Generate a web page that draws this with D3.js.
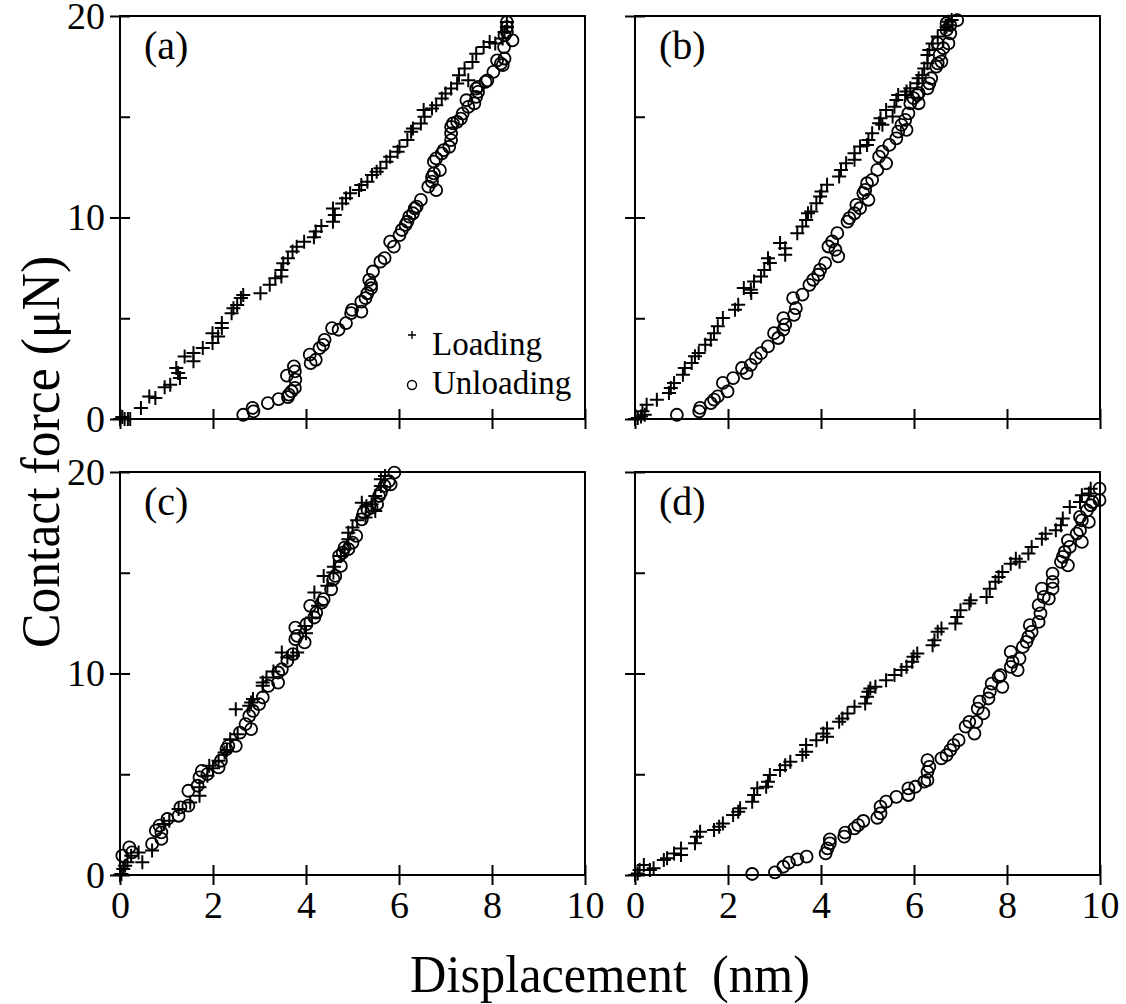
<!DOCTYPE html>
<html>
<head>
<meta charset="utf-8">
<script src="https://cdn.jsdelivr.net/npm/d3@7"></script>
<style>
  body { margin: 0; background: #fff; }
</style>
</head>
<body>
<div id="chart"></div>
<script>
const WIDTH = 1126, HEIGHT = 1004;
const X_TICKS = [0, 2, 4, 6, 8, 10];
const Y_MAJOR = [0, 10, 20];
const Y_ALL = [0, 5, 10, 15, 20];
const PANEL_LABELS = ["(a)", "(b)", "(c)", "(d)"];
const X_TITLE = "Displacement  (nm)";
const Y_TITLE = "Contact force (\u03bcN)";
const LEGEND_NAMES = ["Loading", "Unloading"];
const FONT = "'Liberation Serif'";

// [displacement nm, force uN]
const loadA = [[0,0],[0.05,0.1],[0.1,0],[0.17,0],[0.22,0],[0.45,0.55],[0.63,1.12],[0.76,1.04],[0.96,1.57],[1.08,1.7],
  [1.21,2.53],[1.25,2.28],[1.29,2.03],[1.39,3.1],[1.58,2.86],[1.58,3.27],[1.78,3.52],[1.99,3.77],[1.99,4.26],[2.11,4.1],
  [2.19,4.51],[2.19,4.76],[2.4,5.25],[2.44,5.5],[2.52,5.66],[2.6,6.0],[2.65,6.16],[3.02,6.24],[3.22,6.66],[3.34,6.99],
  [3.47,7.07],[3.47,7.4],[3.51,7.73],[3.61,7.98],[3.71,8.31],[3.8,8.55],[3.96,8.8],[4.17,9.02],[4.21,9.3],[4.33,9.58],
  [4.58,9.79],[4.62,10.12],[4.58,10.45],[4.78,10.7],[4.86,10.95],[4.95,11.2],[5.14,11.36],[5.19,11.61],[5.32,11.78],
  [5.42,12.11],[5.52,12.27],[5.6,12.44],[5.73,12.77],[5.81,13.01],[5.97,13.26],[6.01,13.51],[6.18,13.84],[6.26,14.25],
  [6.3,14.42],[6.47,14.67],[6.55,15.0],[6.53,15.33],[6.71,15.41],[6.8,15.57],[6.92,15.9],[7.0,16.15],[7.12,16.4],
  [7.25,16.65],[7.29,17.06],[7.41,17.39],[7.49,16.81],[7.58,17.72],[7.66,18.13],[7.82,18.46],[7.95,18.71],[8.07,18.63],
  [8.23,18.88],[8.27,19.21],[8.32,19.45],[8.32,19.7]];
const unloadA = [[2.65,0.21],[2.85,0.55],[2.87,0.38],[3.18,0.79],[3.41,0.99],[3.61,1.09],[3.63,1.21],[3.59,2.15],[3.74,2.61],
  [3.76,2.36],[3.77,1.95],[3.76,1.54],[3.69,1.37],[4.08,3.19],[4.1,2.77],[4.21,2.94],[4.29,3.52],[4.37,3.68],[4.4,3.93],
  [4.56,4.51],[4.7,4.43],[4.86,4.76],[4.99,5.42],[4.97,5.25],[5.19,5.33],[5.19,5.83],[5.28,6.0],[5.32,6.24],[5.4,6.66],
  [5.4,6.49],[5.36,6.9],[5.44,7.32],[5.6,7.81],[5.69,7.98],[5.81,8.8],[5.89,8.55],[6.01,9.13],[6.06,9.38],[6.14,9.63],
  [6.18,9.79],[6.22,10.04],[6.3,10.21],[6.34,10.45],[6.38,10.54],[6.47,10.87],[6.63,11.53],[6.71,11.78],[6.71,12.02],
  [6.75,12.19],[6.8,11.36],[6.88,12.35],[6.75,12.77],[6.8,12.93],[6.92,13.18],[6.96,13.34],[7.08,13.51],[7.12,13.84],
  [7.12,14.17],[7.12,14.5],[7.16,14.67],[7.25,14.75],[7.33,14.91],[7.37,15.16],[7.49,15.49],[7.45,15.82],[7.62,15.66],
  [7.66,15.99],[7.7,16.23],[7.66,16.4],[7.7,16.48],[7.86,16.73],[7.9,16.81],[8.03,17.23],[8.19,17.64],[8.23,17.56],
  [8.11,17.8],[8.27,17.89],[8.26,18.46],[8.27,19.04],[8.44,18.79],[8.32,19.21],[8.32,19.45],[8.32,19.7]];

const loadB = [[0,0],[0.06,0.05],[0.13,0.13],[0.21,0.21],[0.16,0.38],[0.25,0.71],[0.47,0.96],[0.73,1.29],[0.77,1.54],[0.84,1.79],
  [1.03,2.2],[1.07,2.53],[1.22,2.78],[1.29,3.11],[1.37,3.27],[1.51,3.69],[1.63,3.93],[1.7,4.26],[1.78,4.6],[1.89,5.01],
  [2.15,5.42],[2.22,5.67],[2.34,6.5],[2.49,6.41],[2.5,6.25],[2.56,6.83],[2.71,7.07],[2.78,7.4],[2.9,7.74],[2.86,7.98],
  [3.12,8.73],[3.23,8.48],[3.23,8.15],[3.49,9.22],[3.6,9.55],[3.68,9.88],[3.72,10.21],[3.79,10.3],[3.9,10.71],[3.98,11.04],
  [4.01,11.29],[4.13,11.62],[4.39,12.03],[4.43,12.36],[4.54,12.69],[4.72,12.86],[4.72,13.19],[4.84,13.52],[4.99,13.6],
  [5.02,13.85],[5.1,14.18],[5.25,14.68],[5.32,14.6],[5.28,14.93],[5.4,15.34],[5.54,15.01],[5.58,15.5],[5.62,15.83],
  [5.66,16.08],[5.81,16.08],[5.84,16.25],[5.92,16.41],[6.07,16.66],[6.1,16.91],[6.18,17.07],[6.22,17.4],[6.29,17.65],
  [6.29,18.07],[6.33,18.31],[6.4,18.64],[6.51,18.98],[6.66,19.31],[6.7,19.47],[6.74,19.72],[6.81,19.8]];
const unloadB = [[0.9,0.21],[1.38,0.38],[1.4,0.55],[1.63,0.79],[1.7,0.96],[1.78,1.12],[1.89,1.79],[1.99,1.37],[2.11,2.03],
  [2.3,2.53],[2.4,2.28],[2.49,2.69],[2.6,3.02],[2.71,3.27],[2.86,3.6],[2.99,4.26],[3.08,4.02],[3.19,4.43],[3.19,5.01],
  [3.23,4.68],[3.42,5.17],[3.46,5.5],[3.4,6.0],[3.6,6.17],[3.75,6.66],[3.83,6.91],[3.94,7.16],[3.98,7.4],[4.09,7.74],
  [4.16,8.56],[4.24,8.81],[4.35,9.22],[4.37,8.07],[4.31,8.4],[4.57,9.8],[4.61,9.97],[4.72,10.21],[4.76,10.63],[4.84,10.46],
  [4.91,11.21],[4.95,11.37],[4.99,11.7],[5.02,10.88],[5.1,11.87],[5.21,12.36],[5.25,13.02],[5.32,13.27],[5.4,12.69],
  [5.47,13.6],[5.62,13.93],[5.66,14.26],[5.73,14.6],[5.81,14.84],[5.84,14.35],[5.88,15.17],[5.92,15.67],[5.99,15.92],
  [6.07,16.08],[6.1,16.17],[6.1,15.67],[6.29,16.41],[6.33,16.66],[6.37,16.91],[6.48,17.49],[6.51,17.65],[6.59,17.74],
  [6.55,18.07],[6.63,18.4],[6.51,18.64],[6.74,18.64],[6.78,19.14],[6.7,19.31],[6.78,19.55],[6.7,19.64],[6.93,19.8]];

const loadC = [[0,0],[0.03,0.05],[0.07,0.3],[0.11,0.46],[0.16,0.63],[0.24,0.96],[0.4,1.12],[0.48,0.63],[0.69,1.21],[0.94,2.53],
  [1.06,2.69],[1.26,3.27],[1.51,3.6],[1.71,3.93],[1.71,4.35],[1.88,4.93],[1.92,5.42],[2.0,5.3],[2.12,5.67],[2.25,6.08],
  [2.3,6.2],[2.37,6.74],[2.53,6.99],[2.49,8.23],[2.78,8.4],[2.82,8.56],[2.86,8.73],[3.07,9.39],[3.07,9.55],[3.15,9.8],
  [3.3,10.1],[3.48,11.04],[3.6,10.8],[3.72,10.88],[3.81,11.04],[3.97,12.36],[4.0,12.0],[4.13,12.78],[4.18,14.02],
  [4.26,13.36],[4.38,14.84],[4.46,14.35],[4.59,15.01],[4.6,15.3],[4.75,15.83],[4.83,16.17],[4.91,16.66],[4.91,16.99],
  [5.0,17.24],[5.1,17.6],[5.2,18.48],[5.28,17.74],[5.3,18.3],[5.41,18.4],[5.49,18.81],[5.49,18.07],[5.61,19.31],
  [5.61,19.64],[5.7,19.8]];
const unloadC = [[0.05,0.96],[0.2,1.37],[0.26,1.12],[0.69,1.54],[0.77,2.2],[0.85,2.45],[0.89,1.79],[0.89,2.12],[1.02,2.78],
  [1.26,2.94],[1.3,3.36],[1.47,3.44],[1.47,4.18],[1.67,4.43],[1.71,4.84],[1.76,5.17],[1.88,5.01],[2.12,5.34],[2.17,5.67],
  [2.29,6.25],[2.33,6.41],[2.49,6.41],[2.58,7.07],[2.7,7.49],[2.78,7.9],[2.82,7.24],[2.86,8.15],[2.99,8.48],[3.07,8.81],
  [3.19,9.39],[3.4,9.55],[3.4,10.05],[3.48,10.21],[3.6,10.63],[3.72,10.96],[3.77,12.28],[3.81,11.87],[3.77,11.7],
  [3.97,11.54],[4.01,12.45],[4.09,13.36],[4.18,12.78],[4.22,13.02],[4.34,13.52],[4.38,13.69],[4.54,14.18],[4.59,14.68],
  [4.63,14.84],[4.75,15.34],[4.71,15.83],[4.79,16.0],[4.83,16.25],[4.91,16.17],[5.0,16.5],[5.08,16.83],[5.2,17.65],
  [5.24,17.98],[5.32,18.15],[5.41,18.23],[5.53,18.4],[5.57,18.81],[5.61,18.98],[5.69,19.31],[5.78,19.55],[5.82,19.39],
  [5.9,19.97]];

const loadD = [[0,0],[0.06,0.08],[0.1,0.25],[0.19,0.5],[0.32,0.25],[0.4,0.33],[0.62,0.74],[0.69,0.83],[0.84,1.07],[0.99,1.32],
  [0.99,0.99],[1.29,1.57],[1.33,1.9],[1.4,2.15],[1.7,2.23],[1.81,2.4],[1.89,2.56],[2.11,2.98],[2.22,3.14],[2.26,3.31],
  [2.52,3.64],[2.56,3.97],[2.63,4.3],[2.82,4.38],[2.86,4.63],[2.9,4.96],[3.12,5.21],[3.23,5.45],[3.34,5.62],[3.6,5.95],
  [3.68,6.12],[3.68,6.45],[3.9,6.69],[4.05,7.02],[4.13,7.27],[4.13,6.86],[4.39,7.6],[4.46,7.77],[4.57,8.02],[4.72,8.35],
  [4.95,8.51],[4.99,8.84],[5.02,9.09],[5.06,9.26],[5.17,9.34],[5.4,9.67],[5.58,9.92],[5.73,10.17],[5.84,10.33],[5.96,10.58],
  [5.99,10.83],[6.07,10.99],[6.4,11.4],[6.44,11.65],[6.51,12.07],[6.59,12.23],[6.89,12.48],[6.93,12.81],[7.0,13.14],
  [7.19,13.47],[7.22,13.64],[7.56,13.8],[7.63,14.21],[7.75,14.55],[7.82,14.79],[7.9,15.04],[8.08,15.45],[8.19,15.7],
  [8.27,15.54],[8.46,15.95],[8.53,16.28],[8.75,16.69],[8.83,16.94],[9.05,17.11],[9.16,17.36],[9.2,17.69],[9.35,18.26],
  [9.57,18.51],[9.61,18.84],[9.76,18.93],[9.8,19.17]];
const unloadD = [[2.52,0.05],[3.01,0.13],[3.19,0.41],[3.31,0.61],[3.49,0.78],[3.69,0.91],[4.1,1.07],[4.14,1.32],[4.19,1.57],
  [4.19,1.77],[4.5,1.9],[4.52,2.1],[4.72,2.31],[4.8,2.48],[4.91,2.68],[5.21,2.84],[5.28,3.06],[5.28,3.39],[5.4,3.64],
  [5.62,3.88],[5.88,3.97],[5.88,4.3],[6.03,4.38],[6.22,4.63],[6.29,4.71],[6.29,5.12],[6.33,5.37],[6.29,5.7],[6.59,5.79],
  [6.7,5.95],[6.78,6.2],[6.85,6.45],[6.96,6.69],[7.11,7.36],[7.19,7.6],[7.3,7.02],[7.37,8.26],[7.34,7.6],[7.49,8.02],
  [7.41,8.6],[7.6,8.76],[7.63,9.09],[7.67,9.5],[7.82,9.83],[7.9,9.34],[7.86,9.92],[8.08,10.33],[8.12,10.58],[8.23,10.17],
  [8.08,11.07],[8.27,10.74],[8.34,11.32],[8.42,11.57],[8.46,11.82],[8.53,12.07],[8.49,12.4],[8.68,12.56],[8.72,12.98],
  [8.68,13.39],[8.79,13.8],[8.75,14.21],[8.9,13.72],[8.98,14.21],[8.98,14.55],[8.98,14.96],[9.16,15.54],[9.2,15.79],
  [9.31,15.37],[9.24,16.03],[9.35,16.28],[9.31,16.61],[9.5,16.94],[9.61,16.53],[9.57,17.11],[9.61,17.6],[9.57,17.77],
  [9.76,17.52],[9.72,18.1],[9.8,18.35],[9.84,18.51],[9.99,18.6],[9.99,19.17]];

const LOADING = [loadA, loadB, loadC, loadD];
const UNLOADING = [unloadA, unloadB, unloadC, unloadD];

// layout
const PANEL_W = 465, PANEL_H = 403;
const PANEL_LEFT = [120, 635];
const PANEL_TOP = [16, 472];
const TICK = 10;
const PLUS = 7, RADIUS = 6;

const svg = d3.select("#chart").append("svg")
  .attr("width", WIDTH)
  .attr("height", HEIGHT);

const x = d3.scaleLinear().domain([0, 10]).range([0, PANEL_W]);
const y = d3.scaleLinear().domain([0, 20]).range([PANEL_H, 0]);

function plusPath(d) {
  const cx = x(d[0]), cy = y(d[1]);
  return "M" + (cx - PLUS) + "," + cy + "H" + (cx + PLUS) + "M" + cx + "," + (cy - PLUS) + "V" + (cy + PLUS);
}

function styleAxis(g) {
  g.attr("font-family", FONT).attr("font-size", 38);
  g.select(".domain").remove();
  g.selectAll(".tick line").attr("stroke", "#000").attr("stroke-width", 2);
  g.selectAll(".tick text").attr("fill", "#000");
}

for (let i = 0; i < 4; i++) {
  const col = i % 2, row = Math.floor(i / 2);
  const g = svg.append("g")
    .attr("transform", "translate(" + PANEL_LEFT[col] + "," + PANEL_TOP[row] + ")");

  // x ticks cross the axis: inward half, then outward half (labels only on bottom row)
  g.append("g").attr("transform", "translate(0," + PANEL_H + ")")
    .call(d3.axisTop(x).tickValues(X_TICKS).tickSize(TICK).tickFormat(""))
    .call(styleAxis);
  g.append("g").attr("transform", "translate(0," + PANEL_H + ")")
    .call(d3.axisBottom(x).tickValues(X_TICKS).tickSize(TICK).tickPadding(6)
      .tickFormat(row === 1 ? d3.format("d") : ""))
    .call(styleAxis);

  // y ticks: all inward, majors also outward (labels on left column)
  g.append("g")
    .call(d3.axisRight(y).tickValues(Y_ALL).tickSize(TICK).tickFormat(""))
    .call(styleAxis);
  g.append("g")
    .call(d3.axisLeft(y).tickValues(Y_MAJOR).tickSize(TICK).tickPadding(5)
      .tickFormat(col === 0 ? d3.format("d") : ""))
    .call(styleAxis);

  // frame
  g.append("rect")
    .attr("width", PANEL_W).attr("height", PANEL_H)
    .attr("fill", "none").attr("stroke", "#000").attr("stroke-width", 2);

  g.selectAll("path.load")
    .data(LOADING[i])
    .enter().append("path")
    .attr("class", "load")
    .attr("d", plusPath)
    .attr("stroke", "#000").attr("stroke-width", 2).attr("fill", "none");

  g.selectAll("circle.unload")
    .data(UNLOADING[i])
    .enter().append("circle")
    .attr("class", "unload")
    .attr("cx", d => x(d[0])).attr("cy", d => y(d[1])).attr("r", RADIUS)
    .attr("fill", "none").attr("stroke", "#000").attr("stroke-width", 1.8);

  g.append("text")
    .attr("x", 24).attr("y", 43)
    .attr("font-family", FONT).attr("font-size", 40)
    .text(PANEL_LABELS[i]);

  if (i === 0) {
    // legend
    const lg = g.append("g").attr("transform", "translate(292,319)");
    lg.append("path")
      .attr("d", "M-4,0H4M0,-4V4")
      .attr("stroke", "#000").attr("stroke-width", 1.4);
    lg.append("text").attr("x", 20).attr("y", 20)
      .attr("font-family", FONT).attr("font-size", 33).text(LEGEND_NAMES[0]);
    lg.append("circle").attr("cx", 0).attr("cy", 50).attr("r", 4.5)
      .attr("fill", "none").attr("stroke", "#000").attr("stroke-width", 1.4);
    lg.append("text").attr("x", 20).attr("y", 59)
      .attr("font-family", FONT).attr("font-size", 33).text(LEGEND_NAMES[1]);
  }
}

svg.append("text")
  .attr("transform", "translate(610,992) scale(0.95,1)")
  .attr("text-anchor", "middle")
  .attr("font-family", FONT).attr("font-size", 53)
  .style("white-space", "pre")
  .text(X_TITLE);

svg.append("text")
  .attr("transform", "translate(59,452) rotate(-90) scale(0.94,1)")
  .attr("text-anchor", "middle")
  .attr("font-family", FONT).attr("font-size", 55)
  .text(Y_TITLE);
</script>
</body>
</html>
